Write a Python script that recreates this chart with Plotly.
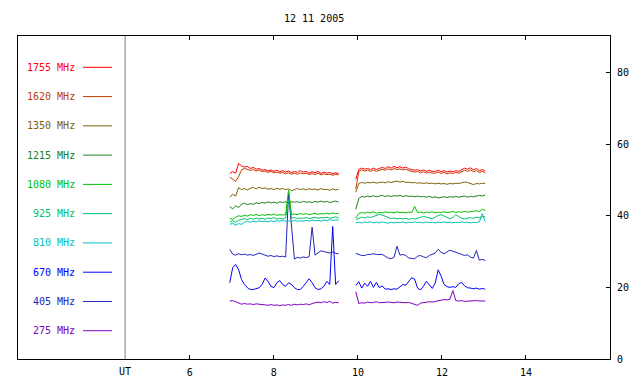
import plotly.graph_objects as go

# ---------------- data ----------------
title_text = "12 11 2005"
x_tickvals = [6, 8, 10, 12, 14]
y_tickvals = [0, 20, 40, 60, 80]
ut_position = 4.46

freq_labels = ["1755 MHz", "1620 MHz", "1350 MHz", "1215 MHz", "1080 MHz",
               "925 MHz", "810 MHz", "670 MHz", "405 MHz", "275 MHz"]
freq_colors = ["#ff0000", "#c04000", "#806008", "#208020", "#00c000",
               "#00c070", "#00c0c0", "#0000ff", "#2424c0", "#8000c0"]

times_a = [6.95, 7.02, 7.09, 7.16, 7.23, 7.30, 7.37, 7.44, 7.51, 7.58, 7.65, 7.72, 7.79,
           7.86, 7.93, 8.00, 8.07, 8.14, 8.21, 8.28, 8.35, 8.42, 8.49, 8.56, 8.63, 8.70,
           8.77, 8.84, 8.91, 8.98, 9.05, 9.12, 9.19, 9.26, 9.33, 9.40, 9.47, 9.54]
times_b = [9.95, 10.02, 10.09, 10.16, 10.23, 10.30, 10.37, 10.44, 10.51, 10.58, 10.65,
           10.72, 10.79, 10.86, 10.93, 11.00, 11.07, 11.14, 11.21, 11.28, 11.35, 11.42,
           11.49, 11.56, 11.63, 11.70, 11.77, 11.84, 11.91, 11.98, 12.05, 12.12, 12.19,
           12.26, 12.33, 12.40, 12.47, 12.54, 12.61, 12.68, 12.75, 12.82, 12.89, 12.96, 13.03]

f1755_a = [51.8, 52.3, 51.9, 54.6, 53.9, 53.6, 53.8, 53.2, 53.5, 53.0, 53.2, 52.7, 52.9,
           52.5, 52.8, 52.4, 52.7, 52.3, 52.6, 52.2, 52.5, 52.0, 52.4, 52.1, 52.6, 52.2,
           52.4, 51.9, 52.3, 52.0, 52.4, 51.8, 52.2, 51.9, 52.1, 51.7, 52.0, 51.8]
f1755_b = [50.2, 52.9, 53.3, 53.0, 53.2, 52.9, 53.3, 52.9, 53.2, 53.5, 53.2, 53.7, 53.3,
           53.8, 53.4, 53.7, 53.3, 53.6, 53.1, 53.0, 52.7, 52.9, 52.5, 52.8, 52.4, 52.7,
           52.4, 52.4, 52.7, 52.3, 52.6, 52.2, 52.5, 52.3, 52.6, 52.4, 52.9, 53.3, 53.0,
           53.4, 52.8, 53.2, 52.6, 52.9, 52.5]

f1620_a = [50.8, 50.2, 49.6, 50.9, 52.8, 53.2, 53.0, 52.7, 52.9, 52.5, 52.8, 52.3, 52.5,
           52.1, 52.4, 52.0, 52.2, 51.9, 52.1, 51.7, 52.0, 51.6, 51.9, 51.6, 51.9, 51.7,
           51.9, 51.5, 51.8, 51.5, 51.9, 51.4, 51.7, 51.5, 51.6, 51.3, 51.6, 51.4]
f1620_b = [47.5, 52.3, 52.8, 52.5, 52.7, 52.4, 52.8, 52.4, 52.7, 53.0, 52.7, 53.1, 52.8,
           53.2, 52.9, 53.1, 52.8, 53.0, 52.6, 52.5, 52.2, 52.4, 52.0, 52.3, 51.9, 52.2,
           51.9, 51.9, 52.2, 51.8, 52.1, 51.7, 52.0, 51.8, 52.1, 51.9, 52.3, 52.7, 52.4,
           52.8, 52.3, 52.6, 52.1, 52.4, 52.0]

f1350_a = [45.2, 46.0, 45.5, 47.8, 47.3, 47.6, 47.2, 47.7, 47.9, 47.5, 48.0, 47.6, 47.8,
           47.4, 47.6, 47.3, 47.7, 47.4, 47.6, 47.3, 47.5, 47.0, 47.3, 47.6, 47.3, 47.5,
           47.2, 47.6, 47.3, 47.5, 47.2, 47.6, 47.3, 47.4, 47.1, 47.5, 47.2, 47.4]
f1350_b = [46.6, 49.0, 49.3, 49.1, 49.3, 49.2, 49.4, 49.1, 49.3, 49.4, 49.2, 49.5, 49.3,
           49.6, 49.7, 49.4, 49.6, 49.3, 49.4, 49.2, 49.3, 49.1, 49.2, 49.0, 49.2, 49.0,
           49.1, 48.9, 49.1, 48.9, 49.0, 48.8, 49.0, 48.9, 49.1, 49.0, 49.2, 49.4, 49.3,
           49.1, 48.7, 49.0, 48.9, 49.1, 49.0]

f1215_a = [42.6, 41.9, 42.8, 42.3, 43.2, 43.5, 43.1, 43.4, 43.2, 43.6, 43.4, 43.7, 43.5,
           43.9, 43.6, 43.8, 43.5, 43.9, 43.7, 43.9, 43.6, 43.9, 43.8, 43.9, 43.7, 44.0,
           43.8, 43.9, 43.7, 44.0, 43.8, 44.1, 43.8, 44.0, 43.7, 43.9, 44.1, 43.8]
f1215_b = [41.8, 44.8, 45.4, 45.2, 45.5, 45.3, 45.6, 45.3, 45.5, 45.7, 45.4, 45.6, 45.4,
           45.6, 45.5, 45.7, 45.4, 45.6, 45.4, 45.5, 45.3, 45.5, 45.3, 45.4, 45.2, 45.4,
           45.1, 45.3, 45.0, 45.2, 45.3, 45.1, 45.3, 45.2, 45.4, 45.2, 45.3, 45.5, 45.2,
           45.4, 45.3, 45.5, 45.7, 45.5, 45.8]

f1080_a = [39.3, 39.0, 39.6, 40.0, 39.8, 40.2, 39.9, 40.3, 40.1, 40.4, 40.0, 40.3, 40.1,
           40.4, 40.2, 40.5, 40.1, 40.3, 40.2, 40.4, 47.2, 40.3, 40.5, 40.3, 40.6, 40.4,
           40.6, 40.3, 40.5, 40.7, 40.4, 40.6, 40.5, 40.7, 40.5, 40.8, 40.6, 40.7]
f1080_b = [39.4, 40.6, 40.9, 40.7, 41.0, 40.8, 41.1, 40.7, 41.0, 40.8, 41.1, 40.9, 41.0,
           40.8, 41.1, 40.9, 41.0, 40.8, 41.0, 40.9, 42.6, 40.9, 41.0, 40.8, 41.0, 40.9,
           41.1, 40.8, 41.0, 40.9, 41.1, 40.9, 41.0, 41.2, 40.9, 41.1, 41.0, 41.2, 41.0,
           41.1, 41.3, 41.4, 41.2, 41.8, 41.5]

f925_a = [38.3, 38.6, 38.2, 38.7, 38.9, 39.2, 38.9, 39.3, 39.0, 39.4, 39.1, 39.3, 39.0,
          39.4, 39.2, 39.5, 39.1, 39.3, 39.1, 39.4, 44.5, 39.3, 39.5, 39.2, 39.4, 39.3,
          39.5, 39.2, 39.4, 39.6, 39.3, 39.5, 39.4, 39.6, 39.3, 39.5, 39.7, 39.4]
f925_b = [38.9, 39.3, 39.6, 39.4, 39.7, 39.5, 39.8, 40.2, 40.4, 40.2, 39.9, 39.4, 39.2,
          39.4, 39.1, 39.3, 39.1, 39.3, 39.0, 39.2, 39.1, 39.3, 39.5, 39.8, 39.6, 39.4,
          39.2, 39.6, 40.1, 40.3, 39.9, 39.4, 39.2, 39.5, 40.3, 39.8, 39.3, 39.1, 39.3,
          39.5, 39.3, 39.6, 39.4, 39.8, 39.7]

f810_a = [37.6, 37.9, 37.4, 37.8, 37.6, 38.2, 38.4, 38.2, 38.5, 38.3, 38.6, 38.4, 38.5,
          38.3, 38.6, 38.4, 38.6, 38.5, 38.7, 38.5, 38.6, 38.4, 38.7, 38.5, 38.6, 38.5,
          38.7, 38.5, 38.8, 38.6, 38.7, 38.5, 38.8, 38.6, 38.9, 38.7, 38.8, 38.9]
f810_b = [38.0, 38.2, 38.0, 38.3, 38.1, 38.3, 38.0, 38.2, 38.0, 38.3, 38.1, 37.9, 38.2,
          38.0, 38.2, 38.1, 38.3, 38.0, 38.2, 38.1, 38.3, 38.1, 38.2, 38.0, 38.3, 38.1,
          38.2, 38.0, 38.2, 38.1, 38.3, 38.1, 38.2, 38.0, 38.2, 38.1, 38.3, 38.1, 38.2,
          38.0, 38.2, 38.1, 38.3, 40.6, 38.3]

f670_a = [21.3, 25.5, 26.4, 25.0, 22.2, 20.8, 19.9, 19.4, 19.4, 19.6, 19.9, 20.8, 22.6,
          21.7, 20.3, 19.9, 21.3, 21.9, 20.8, 20.3, 21.3, 20.8, 19.9, 19.4, 19.4, 20.3,
          21.3, 22.4, 21.3, 19.9, 19.4, 19.6, 20.3, 21.7, 20.8, 37.0, 20.8, 21.9]
f670_b = [20.5, 21.6, 19.8, 21.2, 20.3, 21.7, 20.0, 21.4, 19.9, 20.4, 19.5, 19.6, 19.4,
          19.6, 19.5, 20.2, 20.8, 20.6, 21.5, 22.7, 22.3, 19.8, 19.3, 20.3, 21.7, 20.6,
          19.7, 21.2, 24.9, 23.2, 20.8, 20.2, 20.0, 20.2, 20.0, 21.0, 21.4, 20.4, 19.9,
          19.8, 19.6, 19.8, 19.5, 19.7, 19.5]

f405_a = [30.6, 29.3, 29.0, 29.4, 29.1, 29.3, 29.0, 29.2, 28.9, 29.2, 29.6, 29.3, 28.9,
          28.7, 28.9, 28.6, 28.8, 28.6, 28.7, 28.5, 46.2, 37.5, 27.9, 28.4, 28.2, 28.5,
          28.3, 28.6, 36.8, 29.0, 29.5, 30.2, 30.0, 29.8, 29.6, 29.9, 29.5, 29.4]
f405_b = [29.5, 29.2, 28.9, 28.9, 29.2, 29.2, 29.4, 29.2, 29.1, 29.2, 28.7, 28.2, 28.0,
          28.4, 31.5, 29.0, 29.2, 28.9, 28.2, 28.0, 28.0, 28.7, 28.9, 28.5, 28.3, 28.9,
          29.3, 29.6, 30.6, 29.8, 29.4, 30.0, 30.4, 30.1, 29.7, 29.5, 29.2, 28.9, 29.1,
          28.4, 28.2, 30.3, 27.6, 27.8, 27.5]

f275_a = [16.2, 16.3, 16.0, 15.6, 15.3, 15.5, 15.3, 15.4, 15.2, 15.4, 15.3, 15.1, 15.2,
          15.0, 15.2, 15.0, 15.1, 14.9, 15.1, 15.0, 15.2, 15.0, 15.3, 15.1, 15.3, 15.2,
          15.4, 15.1, 15.5, 15.6, 15.9, 15.7, 16.0, 15.8, 16.1, 15.6, 15.8, 15.7]
f275_b = [18.8, 15.5, 15.7, 15.6, 15.9, 15.7, 15.8, 16.0, 15.7, 15.8, 15.7, 15.9, 15.8,
          15.7, 15.9, 15.8, 15.9, 15.7, 15.8, 15.6, 15.4, 15.0, 15.6, 15.8, 15.9, 16.0,
          15.9, 16.1, 16.2, 16.4, 16.6, 16.5, 16.7, 19.1, 16.3, 16.2, 16.3, 16.1, 16.2,
          16.3, 16.2, 16.3, 16.2, 16.3, 16.2]

series_a = [f1755_a, f1620_a, f1350_a, f1215_a, f1080_a, f925_a, f810_a, f670_a, f405_a, f275_a]
series_b = [f1755_b, f1620_b, f1350_b, f1215_b, f1080_b, f925_b, f810_b, f670_b, f405_b, f275_b]

# ---------------- layout constants ----------------
W, H = 640, 384
PL, PR, PT, PB = 18, 610, 36, 359
X_RANGE = [1.91, 16.0]
Y_RANGE = [0, 90.2]
FONT = "DejaVu Sans Mono"

fig = go.Figure()

# draw the low frequencies first so the red trace ends on top
draw_order = [9, 8, 7, 6, 5, 4, 3, 2, 1, 0]
for k in draw_order:
    xs = times_a + [None] + times_b
    ys = series_a[k] + [None] + series_b[k]
    fig.add_trace(go.Scatter(x=xs, y=ys, mode="lines", connectgaps=False,
                             line=dict(color=freq_colors[k], width=1),
                             name=freq_labels[k], hoverinfo="skip"))


def px_to_paper_x(px):
    return (px - PL) / (PR - PL)


def py_to_paper_y(py):
    return 1 - (py - PT) / (PB - PT)


shapes = []
annotations = []
for i, (lab, col) in enumerate(zip(freq_labels, freq_colors)):
    ypx = 67.3 + i * 29.27
    yp = py_to_paper_y(ypx)
    annotations.append(dict(x=px_to_paper_x(77), y=yp, xref="paper", yref="paper",
                            text=lab, showarrow=False, xanchor="right", yanchor="middle",
                            font=dict(family=FONT, size=10, color=col)))
    shapes.append(dict(type="line", xref="paper", yref="paper",
                       x0=px_to_paper_x(83), x1=px_to_paper_x(112), y0=yp, y1=yp,
                       line=dict(color=col, width=1)))

# UT vertical separator
shapes.append(dict(type="line", xref="x", yref="paper", x0=ut_position, x1=ut_position,
                   y0=0, y1=1, line=dict(color="#808080", width=1), layer="below"))
annotations.append(dict(x=ut_position, y=0, xref="x", yref="paper", text="UT",
                        showarrow=False, xanchor="center", yanchor="top", yshift=-5,
                        font=dict(family=FONT, size=10, color="black")))
annotations.append(dict(x=0.5, y=py_to_paper_y(18), xref="paper", yref="paper",
                        text=title_text, showarrow=False, xanchor="center", yanchor="middle",
                        font=dict(family=FONT, size=10, color="black")))

fig.update_layout(
    width=W, height=H,
    margin=dict(l=PL, r=W - PR, t=PT, b=H - PB, pad=0, autoexpand=False),
    paper_bgcolor="white", plot_bgcolor="white",
    showlegend=False,
    shapes=shapes, annotations=annotations,
    xaxis=dict(range=X_RANGE, tickvals=x_tickvals, ticktext=[str(v) for v in x_tickvals],
               ticks="inside", ticklen=4, tickcolor="black", tickwidth=1,
               showline=True, linecolor="black", linewidth=1, mirror="ticks",
               showgrid=False, zeroline=False, ticklabelstandoff=4, automargin=False,
               tickfont=dict(family=FONT, size=10, color="black")),
    yaxis=dict(range=Y_RANGE, tickvals=y_tickvals, side="right",
               ticks="inside", ticklen=4, tickcolor="black", tickwidth=1,
               showline=True, linecolor="black", linewidth=1, mirror=True,
               showgrid=False, zeroline=False, ticklabelstandoff=4, automargin=False,
               tickfont=dict(family=FONT, size=10, color="black")),
)

fig.write_html("out.html",
               config={"displayModeBar": False},
               post_script="document.body.style.margin='0';document.body.style.padding='0';")
